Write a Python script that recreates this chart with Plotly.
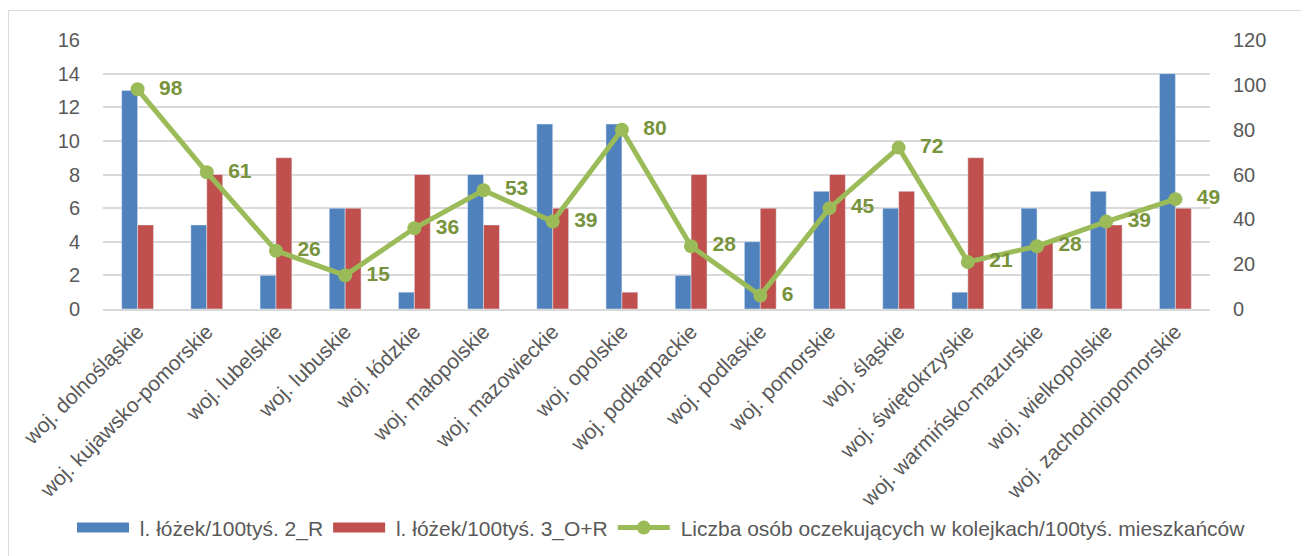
import plotly.graph_objects as go

wojewodztwa = ["woj. dolnośląskie", "woj. kujawsko-pomorskie", "woj. lubelskie", "woj. lubuskie",
               "woj. łódzkie", "woj. małopolskie", "woj. mazowieckie", "woj. opolskie",
               "woj. podkarpackie", "woj. podlaskie", "woj. pomorskie", "woj. śląskie",
               "woj. świętokrzyskie", "woj. warmińsko-mazurskie", "woj. wielkopolskie",
               "woj. zachodniopomorskie"]
lozka_2R = [13, 5, 2, 6, 1, 8, 11, 11, 2, 4, 7, 6, 1, 6, 7, 14]
lozka_3OR = [5, 8, 9, 6, 8, 5, 6, 1, 8, 6, 8, 7, 9, 4, 5, 6]
kolejki = [98, 61, 26, 15, 36, 53, 39, 80, 28, 6, 45, 72, 21, 28, 39, 49]

FONT = "Liberation Sans Narrow, Liberation Sans, Arial"
GRAY = "#595959"
BLUE, RED, GREEN = "#4F81BD", "#C0504D", "#9BBB59"

fig = go.Figure()

# slupki - lewa os
fig.add_trace(go.Bar(x=wojewodztwa, y=lozka_2R, name="l. łóżek/100tyś. 2_R",
                     marker=dict(color=BLUE), showlegend=False))
fig.add_trace(go.Bar(x=wojewodztwa, y=lozka_3OR, name="l. łóżek/100tyś. 3_O+R",
                     marker=dict(color=RED), showlegend=False))

# linia - prawa os
fig.add_trace(go.Scatter(x=wojewodztwa, y=kolejki, yaxis="y2", mode="lines+markers+text",
                         name=" Liczba osób oczekujących w kolejkach/100tyś. mieszkańców",
                         line=dict(color=GREEN, width=5),
                         marker=dict(color=GREEN, size=14),
                         text=["  " + str(v) for v in kolejki], textposition="middle right",
                         textfont=dict(color="#77933C", size=21, family=FONT, weight="bold"),
                         cliponaxis=False, legendrank=3))

# legenda - szerokie prostokaty jak w Excelu
fig.add_trace(go.Scatter(x=[None], y=[None], mode="lines", name=" l. łóżek/100tyś. 2_R",
                         line=dict(color=BLUE, width=13), legendrank=1))
fig.add_trace(go.Scatter(x=[None], y=[None], mode="lines", name=" l. łóżek/100tyś. 3_O+R",
                         line=dict(color=RED, width=13), legendrank=2))

fig.update_layout(
    width=1309, height=556,
    margin=dict(l=95, r=107, t=32, b=255, autoexpand=False),
    plot_bgcolor="white", paper_bgcolor="white",
    barmode="group", bargap=0.54, bargroupgap=0,
    font=dict(family=FONT, color=GRAY, size=20),
    xaxis=dict(range=[-0.5, 15.5], tickangle=-45, tickfont=dict(size=21, color=GRAY), showline=True,
               linecolor="#D9D9D9", linewidth=2, ticks="", automargin=False),
    yaxis=dict(range=[0, 16], dtick=2, gridcolor="#D9D9D9", gridwidth=2,
               tickfont=dict(size=20, color=GRAY), zeroline=False, ticklabelstandoff=22,
               automargin=False),
    yaxis2=dict(range=[0, 120], dtick=20, overlaying="y", side="right", showgrid=False,
                tickfont=dict(size=20, color=GRAY), zeroline=False, ticklabelstandoff=22,
                automargin=False),
    legend=dict(orientation="h", x=-0.028, xanchor="left", y=-0.814, yanchor="middle",
                font=dict(size=21, color=GRAY), itemwidth=52, traceorder="normal",
                bgcolor="rgba(0,0,0,0)"),
    shapes=[dict(type="rect", xref="paper", yref="paper", x0=-0.0854, x1=1.1, y0=-0.98, y1=1.1097,
                 line=dict(color="#D9D9D9", width=1))],
)

fig.write_html("out.html")
